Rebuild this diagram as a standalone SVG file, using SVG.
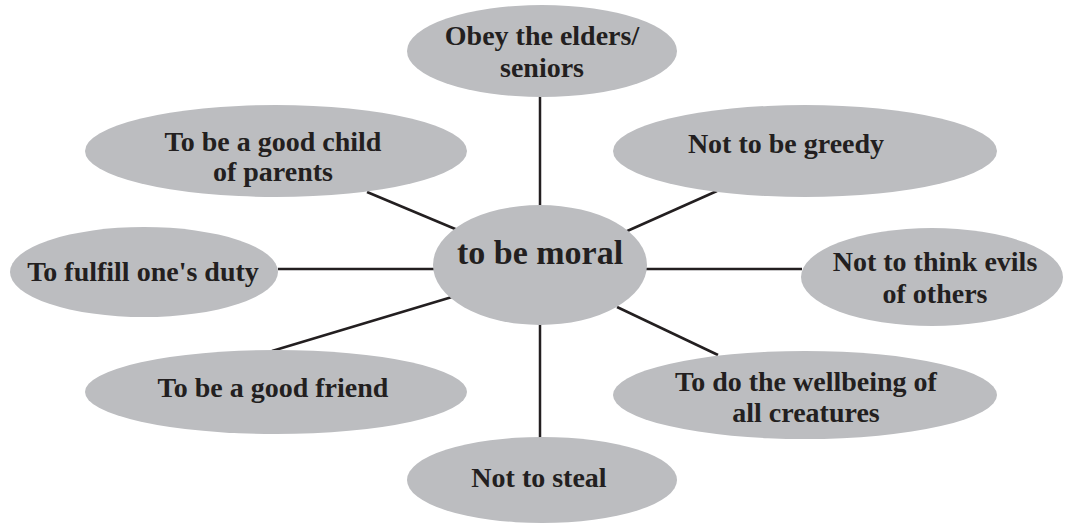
<svg xmlns="http://www.w3.org/2000/svg" width="1067" height="527" viewBox="0 0 1067 527">
<style>
.n{fill:#bcbdc0;stroke:none}
.t{font-family:"Liberation Serif","Times New Roman",serif;font-weight:bold;font-size:28px;fill:#231f20;text-anchor:middle}
.c{font-size:34px}
.l{stroke:#231f20;stroke-width:2.5;fill:none}
</style>
<rect width="1067" height="527" fill="#ffffff"/>
<g id="connectors">
<line class="l" x1="540" y1="96" x2="540" y2="206"/>
<line class="l" x1="367" y1="192" x2="460" y2="231"/>
<line class="l" x1="717" y1="191" x2="625" y2="232"/>
<line class="l" x1="278" y1="269" x2="434" y2="269"/>
<line class="l" x1="646" y1="269" x2="802" y2="269"/>
<line class="l" x1="272" y1="351" x2="452" y2="297"/>
<line class="l" x1="617" y1="307" x2="718" y2="355"/>
<line class="l" x1="540" y1="324" x2="540" y2="438"/>
</g>
<g id="node-center">
<ellipse class="n" cx="540" cy="265" rx="107" ry="60"/>
<text class="t c" x="540" y="264">to be moral</text>
</g>
<g id="node-obey">
<ellipse class="n" cx="542" cy="51" rx="135" ry="46"/>
<text class="t" x="542" y="45">Obey the elders/</text>
<text class="t" x="542" y="77">seniors</text>
</g>
<g id="node-child">
<ellipse class="n" cx="276" cy="151" rx="191" ry="46"/>
<text class="t" x="273" y="151">To be a good child</text>
<text class="t" x="273" y="181">of parents</text>
</g>
<g id="node-greedy">
<ellipse class="n" cx="805" cy="151" rx="192" ry="46"/>
<text class="t" x="786" y="153">Not to be greedy</text>
</g>
<g id="node-duty">
<ellipse class="n" cx="144" cy="272" rx="134" ry="45"/>
<text class="t" x="143" y="281">To fulfill one's duty</text>
</g>
<g id="node-evils">
<ellipse class="n" cx="932" cy="277" rx="131" ry="49"/>
<text class="t" x="935" y="271">Not to think evils</text>
<text class="t" x="935" y="303">of others</text>
</g>
<g id="node-friend">
<ellipse class="n" cx="276" cy="392" rx="191" ry="42"/>
<text class="t" x="273" y="397">To be a good friend</text>
</g>
<g id="node-wellbeing">
<ellipse class="n" cx="805" cy="395" rx="192" ry="44"/>
<text class="t" x="806" y="391">To do the wellbeing of</text>
<text class="t" x="806" y="422">all creatures</text>
</g>
<g id="node-steal">
<ellipse class="n" cx="542" cy="480" rx="135" ry="43"/>
<text class="t" x="539" y="487">Not to steal</text>
</g>
</svg>
